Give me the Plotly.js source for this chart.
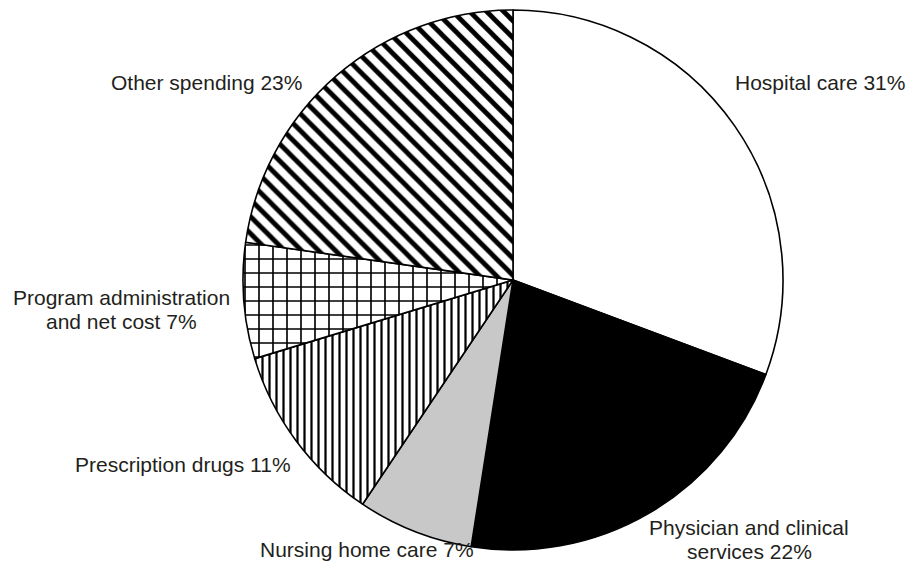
<!DOCTYPE html>
<html>
<head>
<meta charset="utf-8">
<script src="https://cdn.plot.ly/plotly-3.0.1.min.js"></script>
<style>html,body{margin:0;padding:0;background:#fff;}#chart{width:922px;height:565px;}</style>
</head>
<body>
<div id="chart"></div>
<script>
const categories = ["Hospital care", "Physician and clinical services", "Nursing home care", "Prescription drugs", "Program administration and net cost", "Other spending"];
const values = [31, 22, 7, 11, 7, 23];
const labelLines = [["Hospital care 31%"], ["Physician and clinical", "services 22%"], ["Nursing home care 7%"], ["Prescription drugs 11%"], ["Program administration", "and net cost 7%"], ["Other spending 23%"]];
const fills = ["#ffffff", "#000000", "#c8c8c8", "#ffffff", "#ffffff", "#ffffff"];
const patterns = ["", "", "", "|", "+", "\\"];
const patternSizes = [8, 8, 8, 7, 14, 12];
const patternSolidity = [0.3, 0.3, 0.3, 0.32, 0.22, 0.4];

const W = 922, H = 565;
// label positions in pixels: center x, center y of first line
const labelPos = [[820, 83], [749, 527], [367, 549], [183, 465], [121, 297], [206, 83]];
const lineGap = 24;

const trace = {
  type: "pie",
  labels: categories,
  values: values,
  sort: false,
  direction: "clockwise",
  rotation: 0,
  textinfo: "none",
  hoverinfo: "label+percent",
  showlegend: false,
  domain: {x: [243 / W, 783 / W], y: [1 - 550 / H, 1 - 10 / H]},
  marker: {
    colors: fills,
    line: {color: "#000000", width: 1.6},
    pattern: {
      shape: patterns,
      fgcolor: "#000000",
      size: patternSizes,
      solidity: patternSolidity
    }
  }
};

const annotations = [];
labelLines.forEach((lines, i) => {
  lines.forEach((t, j) => {
    annotations.push({
      text: t,
      xref: "paper", yref: "paper",
      x: labelPos[i][0] / W, y: 1 - (labelPos[i][1] + j * lineGap) / H,
      xanchor: "center", yanchor: "middle",
      showarrow: false,
      align: "center",
      font: {family: "Liberation Sans, Arial, sans-serif", size: 21, color: "#231f20"}
    });
  });
});

const layout = {
  width: W, height: H,
  margin: {l: 0, r: 0, t: 0, b: 0},
  paper_bgcolor: "#ffffff",
  annotations: annotations
};

Plotly.newPlot("chart", [trace], layout, {displayModeBar: false, staticPlot: true});
</script>
</body>
</html>
